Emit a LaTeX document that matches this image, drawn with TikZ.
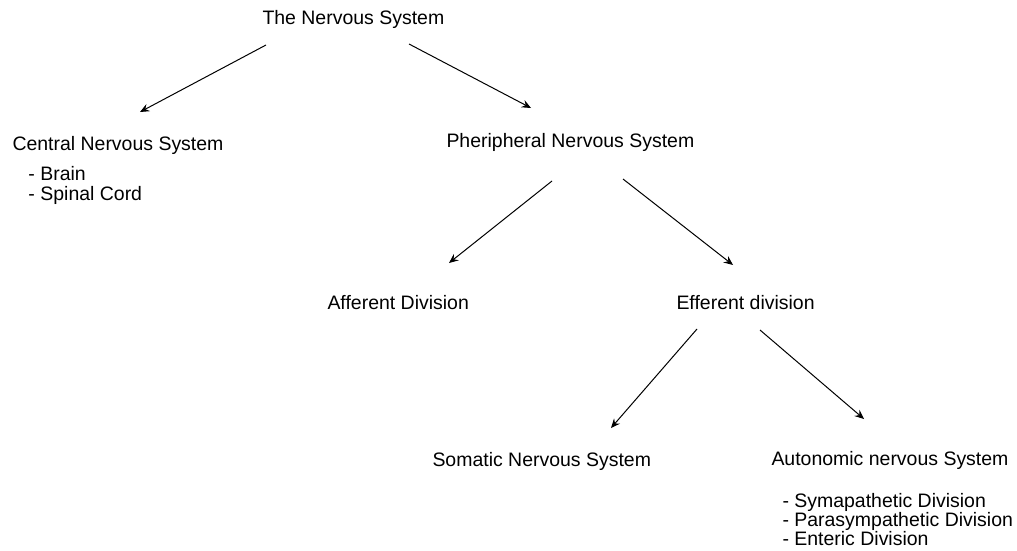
\documentclass[tikz,border=0pt]{standalone}
\usepackage{fontspec}
\setmainfont{Liberation Sans}
\usetikzlibrary{arrows.meta}

\tikzset{every picture/.style={line width=0.75pt}}
\tikzset{
  lbl/.style={anchor=base west, inner sep=0pt, font=\fontsize{14.6}{15}\selectfont},
  arr/.style={-{Stealth[length=7pt, width=6pt, inset=2.5pt]}}
}

\begin{document}
\begin{tikzpicture}[x=0.75pt,y=0.75pt,yscale=-1,xscale=1]
%set diagram left start at 0, and has height of 550
\useasboundingbox (0,0) rectangle (1017,550);

% Text Node
\node [lbl] (nervous) at (262,24) {The Nervous System};
% Text Node
\node [lbl] (cns) at (12,150) {Central Nervous System};
\node [lbl] (brain) at (28,180) {- Brain};
\node [lbl] (spinal) at (28,200) {- Spinal Cord};
% Text Node
\node [lbl] (pns) at (446,147) {Pheripheral Nervous System};
% Text Node
\node [lbl] (afferent) at (327,309) {Afferent Division};
% Text Node
\node [lbl] (efferent) at (676,309) {Efferent division};
% Text Node
\node [lbl] (somatic) at (432,466) {Somatic Nervous System};
% Text Node
\node [lbl] (autonomic) at (771,465) {Autonomic nervous System};
\node [lbl] (sympa) at (782,507) {- Symapathetic Division};
\node [lbl] (parasympa) at (782,526) {- Parasympathetic Division};
\node [lbl] (enteric) at (782,545) {- Enteric Division};

% arrow ends
\coordinate (nervous-l) at (266,45);
\coordinate (cns-in) at (140,112);
\coordinate (nervous-r) at (409,44);
\coordinate (pns-in) at (531,108);
\coordinate (pns-l) at (552,181);
\coordinate (afferent-in) at (449,263);
\coordinate (pns-r) at (623,179);
\coordinate (efferent-in) at (733,265);
\coordinate (efferent-l) at (697,329);
\coordinate (somatic-in) at (611,428);
\coordinate (efferent-r) at (760,330);
\coordinate (autonomic-in) at (864,419);

%Straight Lines
\draw [arr] (nervous-l) -- (cns-in);
\draw [arr] (nervous-r) -- (pns-in);
\draw [arr] (pns-l) -- (afferent-in);
\draw [arr] (pns-r) -- (efferent-in);
\draw [arr] (efferent-l) -- (somatic-in);
\draw [arr] (efferent-r) -- (autonomic-in);

\end{tikzpicture}
\end{document}
